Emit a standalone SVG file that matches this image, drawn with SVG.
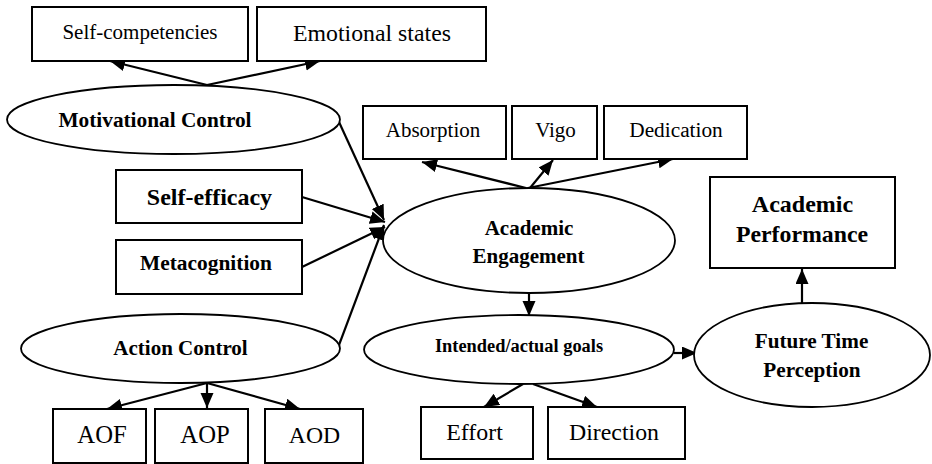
<svg xmlns="http://www.w3.org/2000/svg" width="932" height="464" viewBox="0 0 932 464">
<style>
.box{fill:#fff;stroke:#000;stroke-width:2}
.ell{fill:#fff;stroke:#000;stroke-width:1.8}
.t{fill:#000;text-anchor:middle}
.b{font-weight:bold}
.c{stroke:#000;stroke-width:2.2;fill:none;marker-end:url(#ah)}
</style>
<defs>
<marker id="ah" markerUnits="userSpaceOnUse" markerWidth="16" markerHeight="14" refX="15" refY="6.5" orient="auto">
<path d="M0,0 L15,6.5 L0,13 z" fill="#000"/>
</marker>
</defs>
<rect width="932" height="464" fill="#fff"/>

<g id="connectors">
<line class="c" x1="207" y1="85" x2="110" y2="61"/>
<line class="c" x1="207" y1="85" x2="320" y2="61"/>
<line class="c" x1="339" y1="122" x2="384" y2="220"/>
<line class="c" x1="302" y1="197" x2="385" y2="222"/>
<line class="c" x1="302" y1="267" x2="385" y2="227"/>
<line class="c" x1="339" y1="345" x2="384" y2="225"/>
<line class="c" x1="526" y1="188" x2="422" y2="162"/>
<line class="c" x1="530" y1="188" x2="553" y2="160"/>
<line class="c" x1="528" y1="188" x2="673" y2="159"/>
<line class="c" x1="529" y1="293" x2="529" y2="316"/>
<line class="c" x1="207" y1="383" x2="107" y2="409"/>
<line class="c" x1="207" y1="383" x2="207" y2="408"/>
<line class="c" x1="207" y1="383" x2="300" y2="409"/>
<line class="c" x1="523" y1="384" x2="484" y2="407"/>
<line class="c" x1="533" y1="384" x2="597" y2="407"/>
<line class="c" x1="674" y1="353" x2="697" y2="353"/>
<line class="c" x1="802" y1="303" x2="802" y2="269"/>
</g>

<g font-family="'Liberation Serif', 'Times New Roman', 'DejaVu Serif', serif">
<g id="self-competencies">
<rect class="box" x="32" y="7" width="216" height="54"/>
<text class="t" x="140" y="39" font-size="21">Self-competencies</text>
</g>
<g id="emotional-states">
<rect class="box" x="257" y="7" width="229" height="54"/>
<text class="t" x="372" y="41" font-size="23.8">Emotional states</text>
</g>
<g id="motivational-control">
<ellipse class="ell" cx="173.5" cy="119.5" rx="166.5" ry="34.5"/>
<text class="t b" x="155" y="127" font-size="21.3">Motivational Control</text>
</g>
<g id="absorption">
<rect class="box" x="363" y="106" width="143" height="53"/>
<text class="t" x="433" y="137" font-size="21">Absorption</text>
</g>
<g id="vigo">
<rect class="box" x="512" y="106" width="85" height="53"/>
<text class="t" x="555.5" y="137" font-size="21">Vigo</text>
</g>
<g id="dedication">
<rect class="box" x="604" y="106" width="143" height="53"/>
<text class="t" x="676" y="137" font-size="21.3">Dedication</text>
</g>
<g id="self-efficacy">
<rect class="box" x="116" y="170" width="186" height="53"/>
<text class="t b" x="209.5" y="205" font-size="24">Self-efficacy</text>
</g>
<g id="metacognition">
<rect class="box" x="116" y="240" width="186" height="54"/>
<text class="t b" x="206" y="270" font-size="21.4">Metacognition</text>
</g>
<g id="academic-engagement">
<ellipse class="ell" cx="529" cy="240.5" rx="146" ry="52.5"/>
<text class="t b" x="529" y="235" font-size="21">Academic</text>
<text class="t b" x="528.5" y="263" font-size="21">Engagement</text>
</g>
<g id="academic-performance">
<rect class="box" x="710" y="177" width="185" height="91"/>
<text class="t b" x="802.5" y="212" font-size="24">Academic</text>
<text class="t b" x="802" y="242" font-size="23.8">Performance</text>
</g>
<g id="action-control">
<ellipse class="ell" cx="180.5" cy="348.5" rx="159.5" ry="34.5"/>
<text class="t b" x="180.5" y="355" font-size="21">Action Control</text>
</g>
<g id="aof">
<rect class="box" x="53" y="409" width="93" height="54"/>
<text class="t" x="102" y="443" font-size="24.7">AOF</text>
</g>
<g id="aop">
<rect class="box" x="155" y="409" width="93" height="54"/>
<text class="t" x="205" y="443" font-size="24.7">AOP</text>
</g>
<g id="aod">
<rect class="box" x="265" y="409" width="98" height="54"/>
<text class="t" x="314.5" y="443" font-size="23.7">AOD</text>
</g>
<g id="intended-actual-goals">
<ellipse class="ell" cx="519" cy="349.5" rx="155" ry="34.5"/>
<text class="t b" x="519" y="352" font-size="18.4">Intended/actual goals</text>
</g>
<g id="effort">
<rect class="box" x="421" y="407" width="112" height="52"/>
<text class="t" x="474.5" y="440" font-size="23.9">Effort</text>
</g>
<g id="direction">
<rect class="box" x="548" y="407" width="137" height="52"/>
<text class="t" x="614" y="440" font-size="23.8">Direction</text>
</g>
<g id="future-time-perception">
<ellipse class="ell" cx="812" cy="355" rx="118" ry="52"/>
<text class="t b" x="811.5" y="348" font-size="21.2">Future Time</text>
<text class="t b" x="812" y="377" font-size="21.2">Perception</text>
</g>
</g>
</svg>
